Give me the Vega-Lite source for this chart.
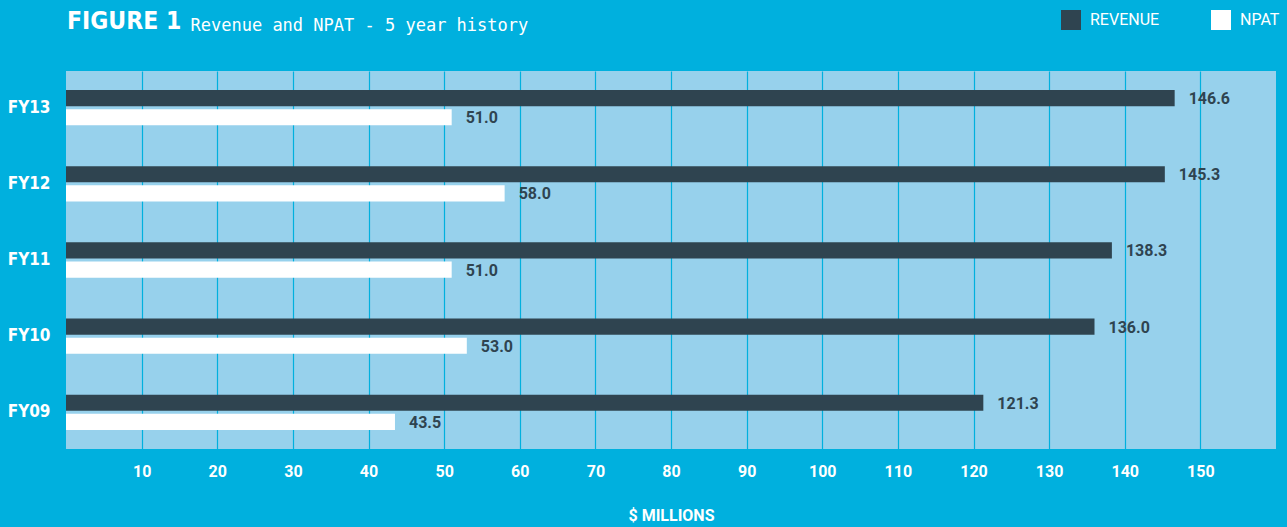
{
  "$schema": "https://vega.github.io/schema/vega-lite/v6.json",
  "width": 1210,
  "height": 378,
  "autosize": {"type": "none"},
  "padding": {"left": 66, "top": 71, "right": 11, "bottom": 78},
  "background": "#00B0DE",
  "title": {
    "text": "FIGURE 1",
    "anchor": "start",
    "frame": "group",
    "font": "DejaVu Sans Condensed",
    "fontWeight": "bold",
    "fontSize": 24.5,
    "color": "#FFFFFF",
    "baseline": "alphabetic",
    "offset": 10,
    "dx": 1,
    "dy": 53
  },
  "config": {
    "view": {"fill": "#97D1EC", "stroke": null},
    "axis": {"grid": false, "domain": false, "ticks": false}
  },
  "data": {
    "values": [
      {"year": "FY13", "series": "REVENUE", "value": 146.6},
      {"year": "FY13", "series": "NPAT", "value": 51.0},
      {"year": "FY12", "series": "REVENUE", "value": 145.3},
      {"year": "FY12", "series": "NPAT", "value": 58.0},
      {"year": "FY11", "series": "REVENUE", "value": 138.3},
      {"year": "FY11", "series": "NPAT", "value": 51.0},
      {"year": "FY10", "series": "REVENUE", "value": 136.0},
      {"year": "FY10", "series": "NPAT", "value": 53.0},
      {"year": "FY09", "series": "REVENUE", "value": 121.3},
      {"year": "FY09", "series": "NPAT", "value": 43.5}
    ]
  },
  "encoding": {
    "y": {
      "field": "year",
      "type": "nominal",
      "sort": ["FY13", "FY12", "FY11", "FY10", "FY09"],
      "scale": {"paddingInner": 0.537, "paddingOuter": 0.25},
      "axis": {
        "title": "Revenue and NPAT - 5 year history",
        "titleAngle": 0,
        "titleX": 124,
        "titleY": -41,
        "titleAlign": "left",
        "titleBaseline": "alphabetic",
        "titleFont": "DejaVu Sans Mono",
        "titleFontWeight": "normal",
        "titleFontSize": 17,
        "titleColor": "#FFFFFF",
        "labelFont": "DejaVu Sans Condensed",
        "labelFontWeight": "bold",
        "labelFontSize": 17,
        "labelColor": "#FFFFFF",
        "labelPadding": 16
      }
    },
    "yOffset": {
      "field": "series",
      "type": "nominal",
      "sort": ["REVENUE", "NPAT"],
      "scale": {"paddingInner": 0.158, "paddingOuter": 0}
    },
    "x": {
      "field": "value",
      "type": "quantitative",
      "scale": {"domain": [0, 160], "nice": false},
      "axis": {
        "values": [10, 20, 30, 40, 50, 60, 70, 80, 90, 100, 110, 120, 130, 140, 150],
        "grid": true,
        "gridColor": "#00B0DE",
        "gridWidth": 1.2,
        "gridOpacity": 1,
        "labelFont": "Roboto",
        "labelFontWeight": "bold",
        "labelFontSize": 16,
        "labelColor": "#FFFFFF",
        "labelPadding": 14,
        "labelDx": -4,
        "title": "$ MILLIONS",
        "titleFont": "Roboto",
        "titleFontWeight": "bold",
        "titleFontSize": 16,
        "titleColor": "#FFFFFF",
        "titlePadding": 28
      }
    }
  },
  "layer": [
    {
      "mark": {"type": "bar", "strokeWidth": 0},
      "encoding": {
        "color": {
          "field": "series",
          "type": "nominal",
          "scale": {"domain": ["REVENUE", "NPAT"], "range": ["#2F4450", "#FFFFFF"]},
          "legend": {
            "title": null,
            "orient": "none",
            "legendX": 995,
            "legendY": -61,
            "direction": "horizontal",
            "symbolType": "square",
            "symbolSize": 400,
            "symbolStrokeWidth": 0,
            "symbolOpacity": 1,
            "labelOffset": 9,
            "columnPadding": 51,
            "labelFont": "Roboto",
            "labelFontSize": 16,
            "labelColor": "#FFFFFF",
            "padding": 0
          }
        }
      }
    },
    {
      "mark": {
        "type": "text",
        "align": "left",
        "baseline": "middle",
        "dx": 14,
        "dy": 1,
        "font": "Roboto",
        "fontWeight": "bold",
        "fontSize": 16,
        "color": "#2F4450"
      },
      "encoding": {
        "text": {"field": "value", "type": "quantitative", "format": ".1f"}
      }
    }
  ]
}
